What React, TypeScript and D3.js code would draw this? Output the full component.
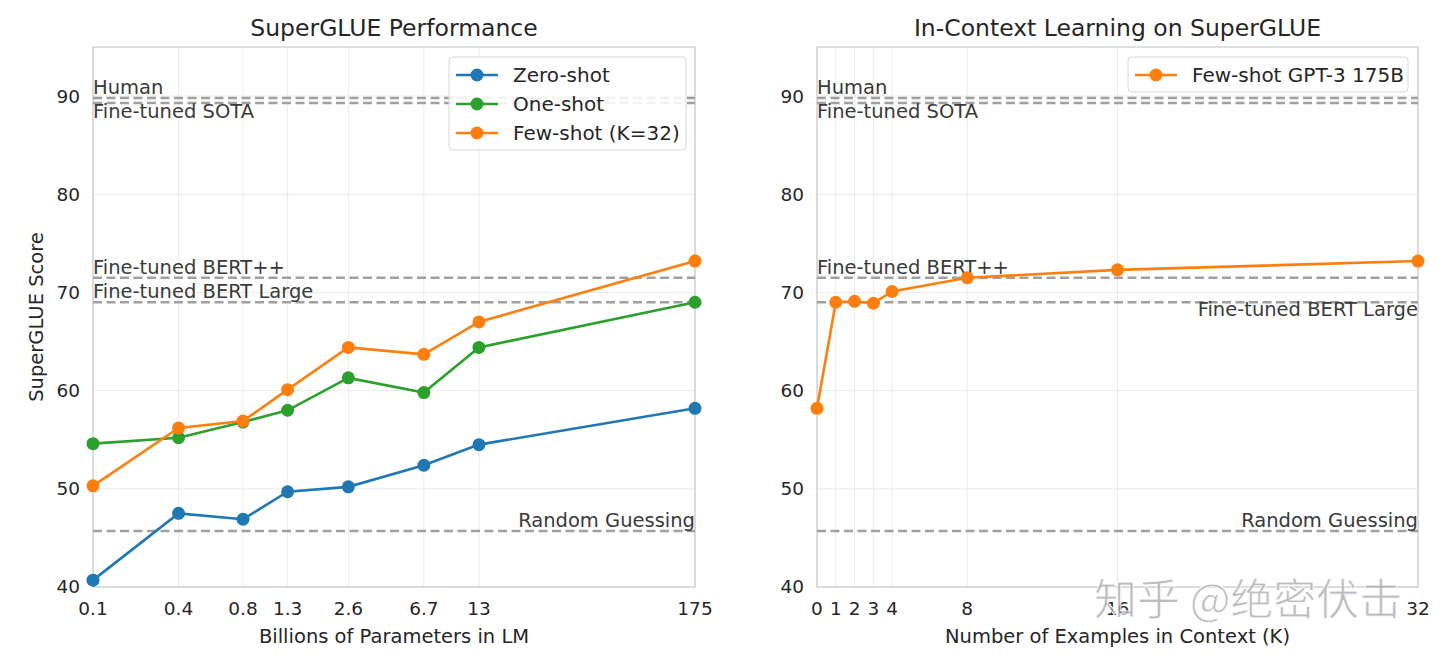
import React from "react";
import * as d3 from "d3";

const params = [0.125, 0.35, 0.76, 1.3, 2.7, 6.7, 13, 175];
const paramTickLabels = ["0.1", "0.4", "0.8", "1.3", "2.6", "6.7", "13", "175"];
const zeroShot = [40.7, 47.5, 46.9, 49.7, 50.2, 52.4, 54.5, 58.2];
const oneShot = [54.6, 55.2, 56.8, 58.0, 61.3, 59.8, 64.4, 69.0];
const fewShot = [50.3, 56.2, 56.9, 60.1, 64.4, 63.7, 67.0, 73.2];

const kValues = [0, 1, 2, 3, 4, 8, 16, 32];
const kTickLabels = ["0", "1", "2", "3", "4", "8", "16", "32"];
const fewShotK = [58.2, 69.0, 69.1, 68.9, 70.1, 71.5, 72.3, 73.2];

const yTicks = [40, 50, 60, 70, 80, 90];
const refHuman = 89.8;
const refSota = 89.3;
const refBertPP = 71.5;
const refBertLarge = 69.0;
const refRandom = 45.7;

const COLORS = { zero: "#1f77b4", one: "#2ca02c", few: "#ff7f0e" };
const FONT = "'DejaVu Sans', sans-serif";
const TXT = "#262626";

const y = d3.scaleLinear().domain([40, 95]).range([587, 47]);
const xL = d3.scaleLog().domain([0.125, 175]).range([93, 695]);
const xR = d3.scaleLinear().domain([0, 32]).range([817, 1418]);

function Frame({ x0, x1, xTicks, xLabels, xScale, title, xTitle, yTitle }: any) {
  const cx = (x0 + x1) / 2;
  return (
    <g>
      {yTicks.map((t) => (
        <line key={"gy" + t} x1={x0} x2={x1} y1={y(t)} y2={y(t)} stroke="#ebebeb" strokeWidth={1} />
      ))}
      {xTicks.map((t: number) => (
        <line key={"gx" + t} x1={xScale(t)} x2={xScale(t)} y1={y(95)} y2={y(40)} stroke="#ebebeb" strokeWidth={1} />
      ))}
      <rect x={x0} y={y(95)} width={x1 - x0} height={y(40) - y(95)} fill="none" stroke="#cccccc" strokeWidth={1.25} />
      {yTicks.map((t) => (
        <text key={"ty" + t} x={x0 - 13} y={y(t)} dy="0.35em" textAnchor="end" fontSize={18.5} fill={TXT} fontFamily={FONT}>
          {t}
        </text>
      ))}
      {xTicks.map((t: number, i: number) => (
        <text key={"tx" + t} x={xScale(t)} y={615} textAnchor="middle" fontSize={18.5} fill={TXT} fontFamily={FONT}>
          {xLabels[i]}
        </text>
      ))}
      <text x={cx} y={36} textAnchor="middle" fontSize={23.5} fill={TXT} fontFamily={FONT}>{title}</text>
      <text x={cx} y={643} textAnchor="middle" fontSize={19.5} fill={TXT} fontFamily={FONT}>{xTitle}</text>
      {yTitle && (
        <text transform={`translate(43,${(y(95) + y(40)) / 2}) rotate(-90)`} textAnchor="middle" fontSize={19.5} fill={TXT} fontFamily={FONT}>
          {yTitle}
        </text>
      )}
    </g>
  );
}

function RefLine({ x0, x1, v }: any) {
  return <line x1={x0} x2={x1} y1={y(v)} y2={y(v)} stroke="#a0a0a0" strokeWidth={2.5} strokeDasharray="9,4.5" />;
}

function Label({ x, yy, anchor, children }: any) {
  return (
    <text x={x} y={yy} textAnchor={anchor} fontSize={19.5} fill="#3a3a3a" fontFamily={FONT}>
      {children}
    </text>
  );
}

function Series({ xs, ys, xScale, color }: any) {
  const line = d3.line<number>().x((d, i) => xScale(xs[i])).y((d) => y(d));
  return (
    <g>
      <path d={line(ys) || ""} fill="none" stroke={color} strokeWidth={2.6} />
      {ys.map((v: number, i: number) => (
        <circle key={i} cx={xScale(xs[i])} cy={y(v)} r={6.5} fill={color} />
      ))}
    </g>
  );
}

function LegendItem({ x, yy, color, label }: any) {
  return (
    <g>
      <line x1={x} x2={x + 42} y1={yy} y2={yy} stroke={color} strokeWidth={2.6} />
      <circle cx={x + 21} cy={yy} r={6.5} fill={color} />
      <text x={x + 57} y={yy} dy="0.35em" fontSize={20} fill={TXT} fontFamily={FONT}>{label}</text>
    </g>
  );
}

export default function App() {
  const L0 = 93, L1 = 695, R0 = 817, R1 = 1418;
  return (
    <svg width={1440} height={656} style={{ position: "absolute", left: 0, top: 0, background: "#fff" }}>
      <rect x={0} y={0} width={1440} height={656} fill="#fff" />
      <Frame x0={L0} x1={L1} xTicks={params} xLabels={paramTickLabels} xScale={xL}
        title="SuperGLUE Performance" xTitle="Billions of Parameters in LM" yTitle="SuperGLUE Score" />
      <Frame x0={R0} x1={R1} xTicks={kValues} xLabels={kTickLabels} xScale={xR}
        title="In-Context Learning on SuperGLUE" xTitle="Number of Examples in Context (K)" />

      {[refHuman, refSota, refBertPP, refBertLarge, refRandom].map((v) => (
        <g key={v}>
          <RefLine x0={L0} x1={L1} v={v} />
          <RefLine x0={R0} x1={R1} v={v} />
        </g>
      ))}

      <Label x={L0} yy={y(refHuman) - 4} anchor="start">Human</Label>
      <Label x={L0} yy={y(refSota) + 15} anchor="start">Fine-tuned SOTA</Label>
      <Label x={L0} yy={y(refBertPP) - 4} anchor="start">Fine-tuned BERT++</Label>
      <Label x={L0} yy={y(refBertLarge) - 4} anchor="start">Fine-tuned BERT Large</Label>
      <Label x={L1} yy={y(refRandom) - 4} anchor="end">Random Guessing</Label>

      <Label x={R0} yy={y(refHuman) - 4} anchor="start">Human</Label>
      <Label x={R0} yy={y(refSota) + 15} anchor="start">Fine-tuned SOTA</Label>
      <Label x={R0} yy={y(refBertPP) - 4} anchor="start">Fine-tuned BERT++</Label>
      <Label x={R1} yy={y(refBertLarge) + 14} anchor="end">Fine-tuned BERT Large</Label>
      <Label x={R1} yy={y(refRandom) - 4} anchor="end">Random Guessing</Label>

      <Series xs={params} ys={zeroShot} xScale={xL} color={COLORS.zero} />
      <Series xs={params} ys={oneShot} xScale={xL} color={COLORS.one} />
      <Series xs={params} ys={fewShot} xScale={xL} color={COLORS.few} />
      <Series xs={kValues} ys={fewShotK} xScale={xR} color={COLORS.few} />

      <rect x={449} y={57} width={237} height={93} rx={4} fill="#fff" fillOpacity={0.85} stroke="#d6d6d6" strokeWidth={1} />
      <LegendItem x={456} yy={75} color={COLORS.zero} label="Zero-shot" />
      <LegendItem x={456} yy={104} color={COLORS.one} label="One-shot" />
      <LegendItem x={456} yy={133} color={COLORS.few} label="Few-shot (K=32)" />

      <rect x={1128} y={57} width={280} height={35} rx={4} fill="#fff" fillOpacity={0.85} stroke="#d6d6d6" strokeWidth={1} />
      <LegendItem x={1135} yy={75} color={COLORS.few} label="Few-shot GPT-3 175B" />

      <text x={1094} y={615} fontSize={43} fill="#a8a8a8" fillOpacity={0.75} stroke="#ffffff" strokeWidth={0.8}
        fontFamily="'Noto Sans CJK SC', sans-serif">知乎 @绝密伏击</text>
    </svg>
  );
}
